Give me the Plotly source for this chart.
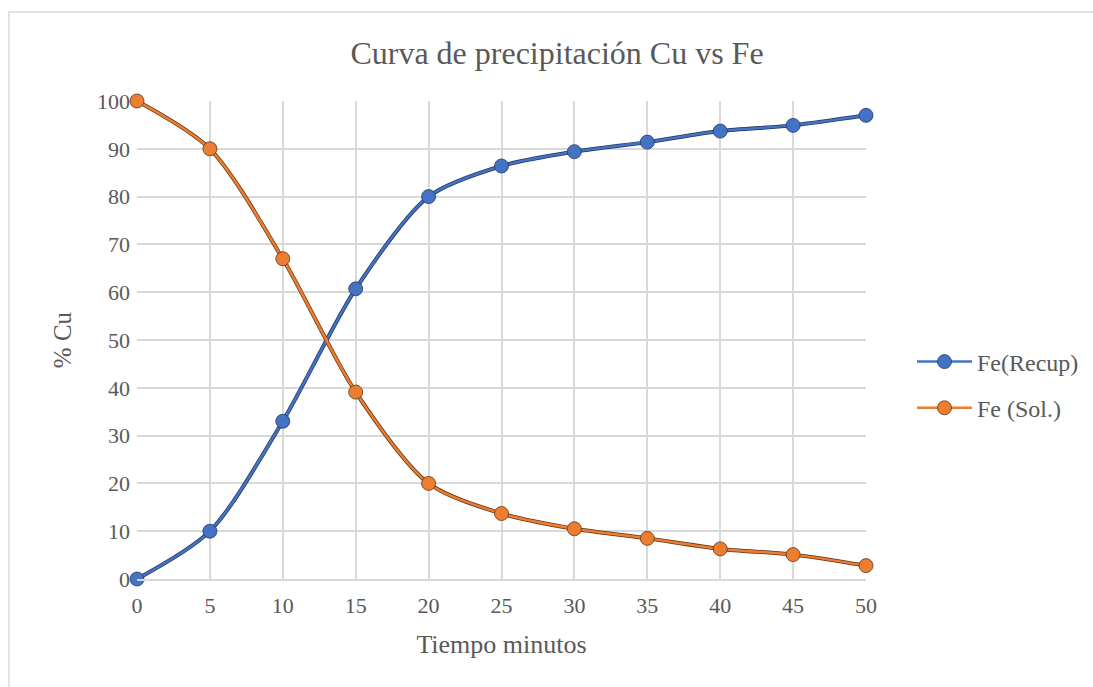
import plotly.graph_objects as go

tiempo = [0, 5, 10, 15, 20, 25, 30, 35, 40, 45, 50]
fe_recup = [0, 10, 33, 60.7, 80, 86.4, 89.4, 91.4, 93.7, 94.9, 97]
fe_sol = [100, 90, 67, 39.1, 20, 13.7, 10.5, 8.5, 6.3, 5.1, 2.8]

W, H = 1093, 687
L, R, T, B = 137, 227, 101, 108
pw, ph = W - L - R, H - T - B

series = [
    ("Fe(Recup)", fe_recup, "#4472C4", "#25375E", "a"),
    ("Fe (Sol.)", fe_sol, "#ED7D31", "#5E3414", "b"),
]

fig = go.Figure()
for name, ys, col, dark, grp in series:
    # dark shadow under the line
    fig.add_trace(go.Scatter(
        x=tiempo, y=ys, mode="lines", showlegend=False, hoverinfo="skip",
        line=dict(color=dark, width=4, shape="spline", smoothing=0.8),
        cliponaxis=False,
    ))
for name, ys, col, dark, grp in series:
    fig.add_trace(go.Scatter(
        x=tiempo, y=ys, name=name, mode="lines+markers", legendgroup=grp,
        line=dict(color=col, width=2.5, shape="spline", smoothing=0.8),
        marker=dict(size=14, color=col, line=dict(color=dark, width=0.8)),
        cliponaxis=False,
    ))

font_fam = "Liberation Serif"
fig.update_layout(
    width=W, height=H,
    margin=dict(l=L, r=R, t=T, b=B, autoexpand=False),
    paper_bgcolor="white", plot_bgcolor="white",
    font=dict(family=font_fam, color="#595959", size=22),
    title=dict(text="Curva de precipitación Cu vs Fe", x=557 / W, xanchor="center",
               y=1 - 53 / H, yanchor="middle",
               font=dict(family=font_fam, size=32, color="#595959")),
    xaxis=dict(range=[0, 50], dtick=5, tick0=0, showgrid=True, gridcolor="#D9D9D9", gridwidth=1.5,
               zeroline=False, showline=True, linecolor="#D9D9D9", linewidth=1.5,
               ticks="", ticklabelstandoff=6,
               title=dict(text="Tiempo minutos", font=dict(size=26), standoff=18),
               tickfont=dict(size=22)),
    yaxis=dict(range=[0, 100], dtick=10, showgrid=True, gridcolor="#D9D9D9", gridwidth=1.5,
               zeroline=False, showline=False, ticks="", ticklabelstandoff=6,
               title=dict(text="% Cu", font=dict(size=25), standoff=18),
               tickfont=dict(size=22)),
    legend=dict(xref="container", yref="container",
                x=912 / W, y=1 - 385 / H, xanchor="left", yanchor="middle",
                font=dict(size=24, color="#595959"), tracegroupgap=12, itemwidth=55,
                bgcolor="rgba(0,0,0,0)"),
    shapes=[dict(type="rect", xref="paper", yref="paper",
                 x0=(9 - L) / pw, x1=(W + 20 - L) / pw,
                 y0=-(B + 20) / ph, y1=1 + (T - 12) / ph,
                 line=dict(color="#D9D9D9", width=1.5), layer="below")],
)

fig.write_html("out.html")
